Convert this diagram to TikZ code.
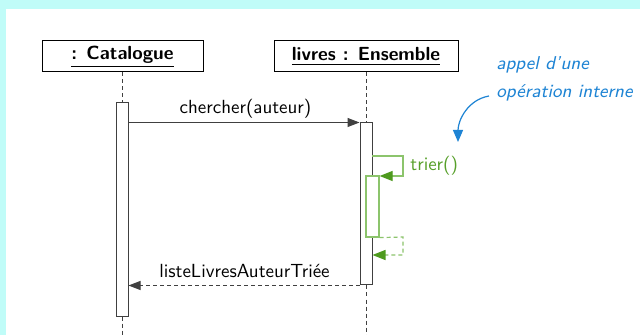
\documentclass[tikz,border=0pt]{standalone}
\usetikzlibrary{arrows.meta,calc}
\definecolor{bgcyan}{HTML}{C0FCF8}
\definecolor{ugreen}{HTML}{8CC46C}
\definecolor{dgreen}{HTML}{4E9A1E}
\definecolor{ublue}{HTML}{1E84D4}
\definecolor{lgray}{HTML}{404040}
\begin{document}
\begin{tikzpicture}[x=0.5pt,y=-0.5pt,font=\fontsize{9.5}{11}\selectfont\sffamily,
  objbox/.style={draw=black,line width=0.5pt,minimum width=#1,minimum height=15.5pt,inner sep=0pt,font=\fontsize{9.5}{11}\selectfont\sffamily\bfseries},
  actbar/.style={draw=lgray,fill=white,line width=0.5pt,minimum width=6pt,minimum height=#1,inner sep=0pt},
  lifeline/.style={draw=lgray,line width=0.5pt,dash pattern=on 2pt off 1.5pt},
  callmsg/.style={draw=lgray,line width=0.5pt,-{Triangle[length=6pt,width=4.5pt]}},
  retmsg/.style={draw=lgray,line width=0.5pt,dash pattern=on 2pt off 1.5pt,-{Triangle[length=6pt,width=4.5pt]}},
  gcall/.style={draw=ugreen,line width=0.6pt,-{Triangle[length=6.5pt,width=5pt,color=dgreen]}},
  gret/.style={draw=ugreen,line width=0.6pt,dash pattern=on 2pt off 1.5pt,-{Triangle[length=6.5pt,width=5pt,color=dgreen]}},
  lbl/.style={anchor=base,inner sep=0pt},
  note/.style={anchor=base west,inner sep=0pt,text=ublue,font=\fontsize{9.3}{11}\selectfont\sffamily\itshape}]
\useasboundingbox (0,0) rectangle (640,335);
\fill[bgcyan] (0,0) rectangle (640,335);
\fill[white] (6,9) rectangle (640,335);
% objects
\node[objbox=80.5pt] (cat) at (122.5,56.5) {\underline{: Catalogue}};
\node[objbox=92pt] (ens) at (366,56.5) {\underline{livres : Ensemble}};
% bottom ends of lifelines
\coordinate (catend) at (122,335);
\coordinate (ensend) at (366,335);
% activation bars
\node[actbar=106.5pt] (act1) at (122,209.5) {};
\node[actbar=81pt] (act2) at (366,204) {};
\node[draw=ugreen,fill=white,line width=0.6pt,minimum width=6.5pt,minimum height=30.5pt,inner sep=0pt] (act3) at (372.5,206.5) {};
% lifelines
\draw[lifeline] (cat.south -| act1.north) -- (act1.north);
\draw[lifeline] (act1.south) -- (catend);
\draw[lifeline] (ens.south -| act2.north) -- (act2.north);
\draw[lifeline] (act2.south) -- (ensend);
% call
\coordinate (c1) at ($(act1.north east)+(0,20)$);
\draw[callmsg] (c1) -- (c1 -| act2.west);
\node[lbl] (lchercher) at (245.5,114) {chercher(auteur)};
% self call
\coordinate (s1) at (372,156);
\coordinate (s2) at (403,156);
\coordinate (s3) at (403,176);
\draw[gcall] (s1) -- (s2) -- (s3) -- (s3 -| act3.east);
\node[anchor=base west,inner sep=0pt,text=dgreen!85!ugreen] (ltrier) at (410,171) {trier()};
\coordinate (r2) at (403,237);
\coordinate (r3) at (403,255);
\draw[gret] (act3.south east) -- (r2) -- (r3) -- (r3 -| act2.east);
% return
\coordinate (ret) at (act2.south west);
\draw[retmsg] (ret) -- (ret -| act1.east);
\node[lbl] (lliste) at (244.5,278) {listeLivresAuteurTriée};
% annotation
\node[note] (note1) at (496,70) {appel d'une};
\node[note] (note2) at (496,98) {opération interne};
\coordinate (nt) at (458,142);
\draw[ublue,line width=0.6pt,-{Triangle[length=6pt,width=5pt]}] (489,96) to[out=190,in=90] (nt);
\end{tikzpicture}
\end{document}
